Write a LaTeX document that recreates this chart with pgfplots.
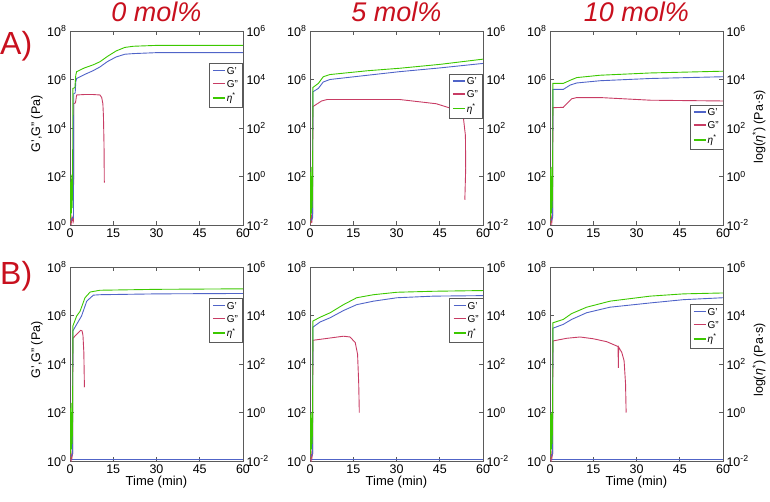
\documentclass[border=0pt]{standalone}
\usepackage{pgfplots}
\pgfplotsset{compat=1.18}
\usepackage{fontspec}
\setmainfont{Liberation Sans}
\definecolor{cGp}{RGB}{80,100,200}
\definecolor{cGpp}{RGB}{200,60,100}
\definecolor{cEta}{RGB}{60,200,0}
\definecolor{cTitle}{RGB}{200,16,30}
\definecolor{cFrame}{RGB}{90,90,90}
\pgfplotsset{
  myBaseAx/.style={scale only axis, width=173pt, height=194pt, anchor=south west,
    xmin=0, xmax=60, xtick={0,15,30,45,60},
    tick align=inside, major tick length=4pt, yminorticks=false,
    axis line style={cFrame, line width=0.8pt},
    every tick/.style={cFrame, line width=0.6pt},
    tick label style={font=\fontsize{12.5}{14}\selectfont},
    /pgf/number format/assume math mode=true},
  myLeftAx/.style={myBaseAx, ymin=1, ymax=1e8, ytick={1,1e2,1e4,1e6,1e8},
    yticklabels={10\textsuperscript{0},10\textsuperscript{2},10\textsuperscript{4},10\textsuperscript{6},10\textsuperscript{8}},
    yticklabel pos=left, xticklabel pos=bottom},
  myRightAx/.style={myBaseAx, ymin=1e-2, ymax=1e6, ytick={1e-2,1,1e2,1e4,1e6},
    yticklabels={10\textsuperscript{-2},10\textsuperscript{0},10\textsuperscript{2},10\textsuperscript{4},10\textsuperscript{6}},
    axis y line*=right, axis x line=none,
    legend cell align=left, legend image code/.code={},
    legend style={font=\fontsize{10}{12}\selectfont, draw=cFrame, anchor=north east, inner sep=2pt, row sep=0.5pt}},
}
\tikzset{gp/.style={cGp, line width=0.9pt}, gpp/.style={cGpp, line width=0.9pt}, eta/.style={cEta, line width=0.9pt}}
\newcommand{\lrule}[1]{\textcolor{#1}{\rule[0.28em]{12pt}{1.7pt}}\hspace{2pt}}
\newcommand{\leg}{\addlegendimage{cGp}\addlegendentry{\lrule{cGp}G'}
  \addlegendimage{cGpp}\addlegendentry{\lrule{cGpp}G''}
  \addlegendimage{cEta}\addlegendentry{\lrule{cEta}\textit{η}\textsuperscript{*}}}
\begin{document}
\begin{tikzpicture}
\useasboundingbox (0,0) rectangle (770pt,501pt);
% ---------------- A1 ----------------
\begin{semilogyaxis}[myLeftAx, at={(70pt,276pt)}]
\addplot[gpp] coordinates {(0,1) (0.3,2.5) (0.6,1.2) (0.9,2) (1.2,1.5) (1.3,1.0e5) (1.9,1.1e5) (2.3,2.3e5) (5,2.4e5) (8,2.4e5) (10.4,2.3e5) (11.0,1.8e5) (11.4,1e5) (11.6,3e4) (11.8,2e3) (11.9,56)};
\addplot[gp] coordinates {(0.3,1.5) (0.8,2) (1.2,2) (1.3,2.6e5) (1.8,2.8e5) (2.0,8e5) (2.3,1.1e6) (5,1.6e6) (8,2.3e6) (10.4,3.3e6) (13,5.5e6) (16,8.5e6) (19,1.1e7) (22,1.17e7) (30,1.28e7) (60,1.29e7)};
\end{semilogyaxis}
\begin{semilogyaxis}[myRightAx, at={(70pt,276pt)}, legend style={at={(0.995,0.835)}}]
\leg
\addplot[eta, forget plot] coordinates {(0,0.012) (0.15,0.6) (0.25,0.02) (0.4,1.2) (0.5,0.03) (0.65,0.8) (0.75,0.05) (0.9,0.5) (1.0,4.3e3) (1.7,4.6e3) (2.0,1.5e4) (2.3,2.1e4) (5,3.0e4) (8,4.0e4) (10.4,5.4e4) (13,9e4) (16,1.5e5) (19,2.1e5) (22,2.35e5) (30,2.55e5) (60,2.57e5)};
\end{semilogyaxis}
% ---------------- A2 ----------------
\begin{semilogyaxis}[myLeftAx, at={(310pt,276pt)}]
\addplot[gpp] coordinates {(0,1) (0.3,4) (0.6,1.2) (0.9,3) (1.0,7.6e4) (4,1.3e5) (6,1.5e5) (31,1.5e5) (43.8,1.0e5) (50.8,5.5e4) (53.1,3.4e4) (53.6,1e4) (53.9,5e3) (54,2.2e2) (53.7,11)};
\addplot[gp] coordinates {(0.3,1.5) (0.9,2) (1.0,3.1e5) (2.9,4.3e5) (4.6,7.9e5) (6.9,1.0e6) (20,1.5e6) (31,2.1e6) (45,3.0e6) (60,4.6e6)};
\end{semilogyaxis}
\begin{semilogyaxis}[myRightAx, at={(310pt,276pt)}, legend style={at={(0.995,0.78)}}]
\leg
\addplot[eta, forget plot] coordinates {(0,0.012) (0.15,1.5) (0.25,0.02) (0.4,2.5) (0.5,0.03) (0.65,1) (0.75,0.05) (0.9,0.5) (1.0,4.7e3) (2.9,6.9e3) (4.6,1.3e4) (6.9,1.6e4) (20,2.3e4) (31,2.9e4) (45,4.2e4) (60,6.9e4)};
\end{semilogyaxis}
% ---------------- A3 ----------------
\begin{semilogyaxis}[myLeftAx, at={(550pt,276pt)}]
\addplot[gpp] coordinates {(0,1) (0.3,3) (0.6,1.2) (0.9,2.5) (1.0,6.9e4) (4.6,7.1e4) (5.8,1.0e5) (7.5,1.6e5) (9.3,1.8e5) (17.4,1.8e5) (34.8,1.4e5) (60,1.3e5)};
\addplot[gp] coordinates {(0.3,1.5) (0.9,2) (1.0,3.9e5) (4.6,3.9e5) (5.8,4.8e5) (7,5.9e5) (9.3,7.2e5) (17.4,8.9e5) (34.8,1.1e6) (60,1.3e6)};
\end{semilogyaxis}
\begin{semilogyaxis}[myRightAx, at={(550pt,276pt)}, legend style={at={(1.0,0.62)}}]
\leg
\addplot[eta, forget plot] coordinates {(0,0.012) (0.15,2) (0.25,0.02) (0.4,2.5) (0.5,0.03) (0.65,1) (0.75,0.05) (0.9,0.5) (1.0,6.9e3) (4.6,6.9e3) (5.8,8e3) (7,9.3e3) (9.3,1.2e4) (17.4,1.5e4) (34.8,1.86e4) (60,2.2e4)};
\end{semilogyaxis}
% ---------------- B1 ----------------
\begin{semilogyaxis}[myLeftAx, at={(70pt,40pt)}]
\addplot[gp] coordinates {(0,1.15) (60,1.15)};
\addplot[gpp] coordinates {(0,1) (0.3,2.5) (0.6,1.2) (0.9,2) (1.0,1.15e5) (2.3,1.66e5) (3.7,2.45e5) (4.2,2.3e5) (4.5,1.5e5) (4.8,3e4) (5.0,1.1e3)};
\addplot[gp] coordinates {(0.3,1.5) (0.9,2) (1.0,2.3e5) (2.3,4.3e5) (4,9.5e5) (5.8,3.9e6) (8.1,6.9e6) (10.4,7.2e6) (30,7.8e6) (60,8.1e6)};
\end{semilogyaxis}
\begin{semilogyaxis}[myRightAx, at={(70pt,40pt)}, legend style={at={(0.995,0.84)}}]
\leg
\addplot[eta, forget plot] coordinates {(0,0.012) (0.15,1.5) (0.25,0.02) (0.4,2.5) (0.5,0.03) (0.65,1) (0.75,0.05) (0.9,0.5) (1.0,3.7e3) (2.3,9.5e3) (3.5,1.5e4) (5.2,5.4e4) (7,9.3e4) (10.4,1.1e5) (30,1.2e5) (60,1.26e5)};
\end{semilogyaxis}
% ---------------- B2 ----------------
\begin{semilogyaxis}[myLeftAx, at={(310pt,40pt)}]
\addplot[gp] coordinates {(0,1.15) (60,1.15)};
\addplot[gpp] coordinates {(0,1) (0.3,3) (0.6,1.2) (0.9,2) (1.0,9.5e4) (11.6,1.4e5) (13.9,1.3e5) (15.7,7.6e4) (16.5,2.5e4) (16.9,1.5e3) (17.1,1e2)};
\addplot[gp] coordinates {(0.3,1.5) (0.9,2) (1.0,3.3e5) (3.5,5.4e5) (7,8.1e5) (11.6,1.6e6) (16.2,2.8e6) (22,3.9e6) (30.2,5.4e6) (43,6.3e6) (60,6.6e6)};
\end{semilogyaxis}
\begin{semilogyaxis}[myRightAx, at={(310pt,40pt)}, legend style={at={(1.0,0.84)}}]
\leg
\addplot[eta, forget plot] coordinates {(0,0.012) (0.15,0.8) (0.25,0.02) (0.4,1.0) (0.5,0.03) (0.65,0.6) (0.75,0.05) (0.9,0.5) (1.0,5.9e3) (3.5,8.5e3) (7,1.3e4) (11.6,2.8e4) (16.2,5.4e4) (22,7.2e4) (30.2,9.1e4) (43,1.0e5) (60,1.07e5)};
\end{semilogyaxis}
% ---------------- B3 ----------------
\begin{semilogyaxis}[myLeftAx, at={(550pt,40pt)}]
\addplot[gp] coordinates {(0,1.15) (60,1.15)};
\addplot[gpp] coordinates {(0,1) (0.3,3) (0.6,1.2) (0.9,2) (1.0,8.9e4) (5.8,1.15e5) (10.4,1.3e5) (15,1.1e5) (19.7,8.3e4) (23.2,5.5e4) (23.6,5.2e4) (23.7,7e3) (23.8,5e4) (24.9,3.0e4) (25.7,1.35e4) (26.2,1.5e3) (26.4,1e2)};
\addplot[gp] coordinates {(0.3,1.5) (0.9,2) (1.0,3.0e5) (4.6,4.3e5) (7.5,6.9e5) (12.7,1.3e6) (20.8,2.2e6) (34.8,3.3e6) (46.3,4.5e6) (60,5.4e6)};
\end{semilogyaxis}
\begin{semilogyaxis}[myRightAx, at={(550pt,40pt)}, legend style={at={(1.0,0.81)}}]
\leg
\addplot[eta, forget plot] coordinates {(0,0.012) (0.15,0.8) (0.25,0.02) (0.4,1.0) (0.5,0.03) (0.65,0.9) (0.75,0.05) (0.9,0.8) (1.0,5.0e3) (4.6,6.9e3) (7.5,1.2e4) (12.7,2.2e4) (20.8,3.9e4) (34.8,6.3e4) (46.3,7.8e4) (60,8.5e4)};
\end{semilogyaxis}
% ---------------- texts ----------------
\node[anchor=base, text=cTitle, font=\fontsize{27}{30}\selectfont\itshape, inner sep=0pt] at (156.5pt,479pt) {0 mol\%};
\node[anchor=base, text=cTitle, font=\fontsize{27}{30}\selectfont\itshape, inner sep=0pt] at (396.5pt,479pt) {5 mol\%};
\node[anchor=base, text=cTitle, font=\fontsize{27}{30}\selectfont\itshape, inner sep=0pt] at (636.5pt,479pt) {10 mol\%};
\node[anchor=base west, text=cTitle, font=\fontsize{32}{34}\selectfont, inner sep=0pt] at (0pt,446pt) {A)};
\node[anchor=base west, text=cTitle, font=\fontsize{32}{34}\selectfont, inner sep=0pt] at (0pt,216pt) {B)};
\node[rotate=90, font=\fontsize{12.5}{14}\selectfont, inner sep=0pt] at (37pt,377pt) {G',G'' (Pa)};
\node[rotate=90, font=\fontsize{12.5}{14}\selectfont, inner sep=0pt] at (37pt,151pt) {G',G'' (Pa)};
\node[rotate=90, font=\fontsize{12.5}{14}\selectfont, inner sep=0pt] at (759pt,374pt) {log(\textit{η}\textsuperscript{*}) (Pa·s)};
\node[rotate=90, font=\fontsize{12.5}{14}\selectfont, inner sep=0pt] at (759pt,141pt) {log(\textit{η}\textsuperscript{*}) (Pa·s)};
\node[anchor=base, font=\fontsize{13}{15}\selectfont, inner sep=0pt] at (156.5pt,16pt) {Time (min)};
\node[anchor=base, font=\fontsize{13}{15}\selectfont, inner sep=0pt] at (396.5pt,16pt) {Time (min)};
\node[anchor=base, font=\fontsize{13}{15}\selectfont, inner sep=0pt] at (636.5pt,16pt) {Time (min)};
\end{tikzpicture}
\end{document}
